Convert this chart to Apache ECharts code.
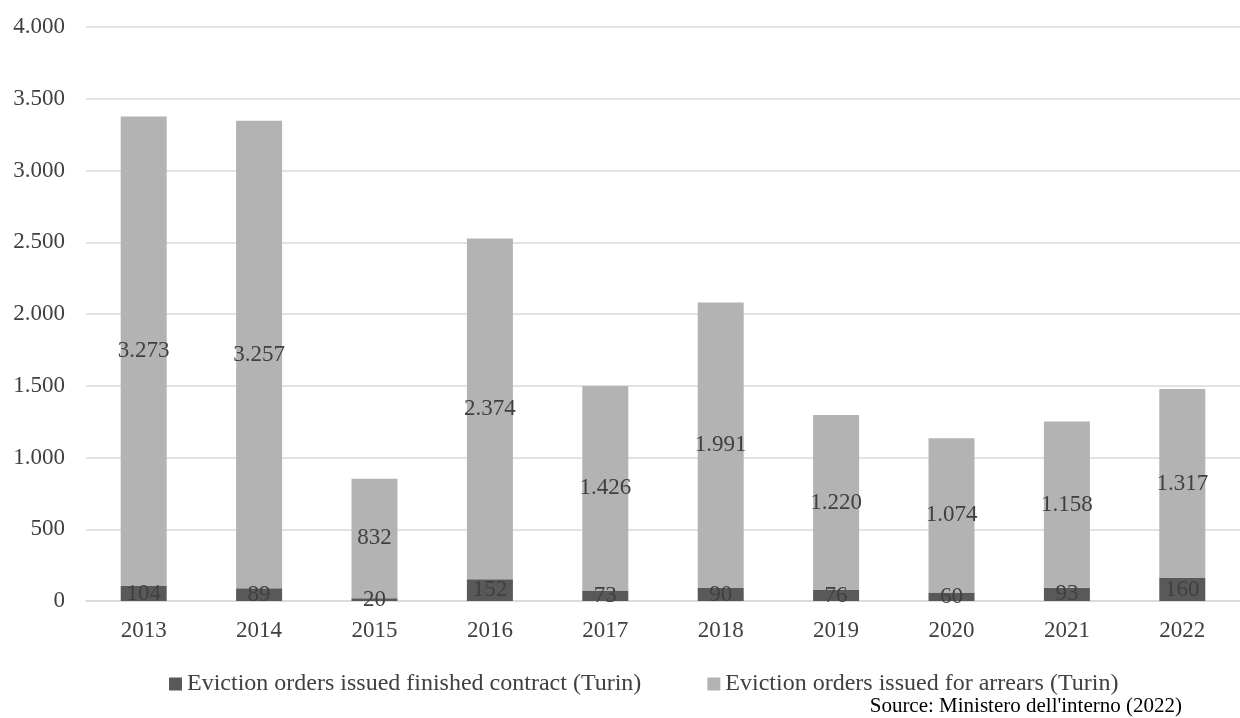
<!DOCTYPE html>
<html>
<head>
<meta charset="utf-8">
<script src="https://cdn.jsdelivr.net/npm/echarts@6/dist/echarts.min.js"></script>
<style>
  html, body { margin: 0; padding: 0; background: #fff; }
  #chart { width: 1240px; height: 718px; }
</style>
</head>
<body>
<div id="chart"></div>
<script>
const years = ['2013', '2014', '2015', '2016', '2017', '2018', '2019', '2020', '2021', '2022'];
const finishedContract = [104, 89, 20, 152, 73, 90, 76, 60, 93, 160];
const arrears = [3273, 3257, 832, 2374, 1426, 1991, 1220, 1074, 1158, 1317];
const seriesNames = ['Eviction orders issued finished contract (Turin)', 'Eviction orders issued for arrears (Turin)'];
const sourceNote = "Source: Ministero dell'interno (2022)";

const FONT = '"Liberation Serif", "Times New Roman", serif';
const TEXT = '#404040';

// Italian thousands separator: 3273 -> "3.273"
function fmt(v) {
  return String(Math.round(v)).replace(/\B(?=(\d{3})+(?!\d))/g, '.');
}

const chart = echarts.init(document.getElementById('chart'));

function segLabel() {
  return {
    show: true,
    position: 'inside',
    color: TEXT,
    fontFamily: FONT,
    fontSize: 23,
    formatter: p => fmt(p.value)
  };
}

chart.setOption({
  animation: false,
  textStyle: { fontFamily: FONT },
  grid: { left: 86, right: 0, top: 27, bottom: 117, containLabel: false },
  xAxis: {
    type: 'category',
    data: years,
    axisLine: { lineStyle: { color: '#d9d9d9', width: 1.5 } },
    axisTick: { show: false },
    axisLabel: { color: TEXT, fontFamily: FONT, fontSize: 23, margin: 18 }
  },
  yAxis: {
    type: 'value',
    min: 0,
    max: 4000,
    interval: 500,
    axisLine: { show: false },
    axisTick: { show: false },
    splitLine: { lineStyle: { color: '#d9d9d9', width: 1.5 } },
    axisLabel: { color: TEXT, fontFamily: FONT, fontSize: 23, margin: 21, formatter: v => fmt(v) }
  },
  legend: {
    top: 667,
    left: 164,
    itemWidth: 13,
    itemHeight: 13,
    itemGap: 66,
    icon: 'rect',
    textStyle: { color: TEXT, fontFamily: FONT, fontSize: 24 },
    data: seriesNames
  },
  graphic: [{
    type: 'text',
    right: 58,
    top: 696,
    style: { text: sourceNote, fill: '#000', font: '21px ' + FONT }
  }],
  series: [
    {
      name: seriesNames[0],
      type: 'bar',
      stack: 'total',
      barWidth: 46,
      itemStyle: { color: '#595959' },
      label: segLabel(),
      data: finishedContract
    },
    {
      name: seriesNames[1],
      type: 'bar',
      stack: 'total',
      barWidth: 46,
      itemStyle: { color: '#b3b3b3' },
      label: segLabel(),
      data: arrears
    }
  ]
});
</script>
</body>
</html>
